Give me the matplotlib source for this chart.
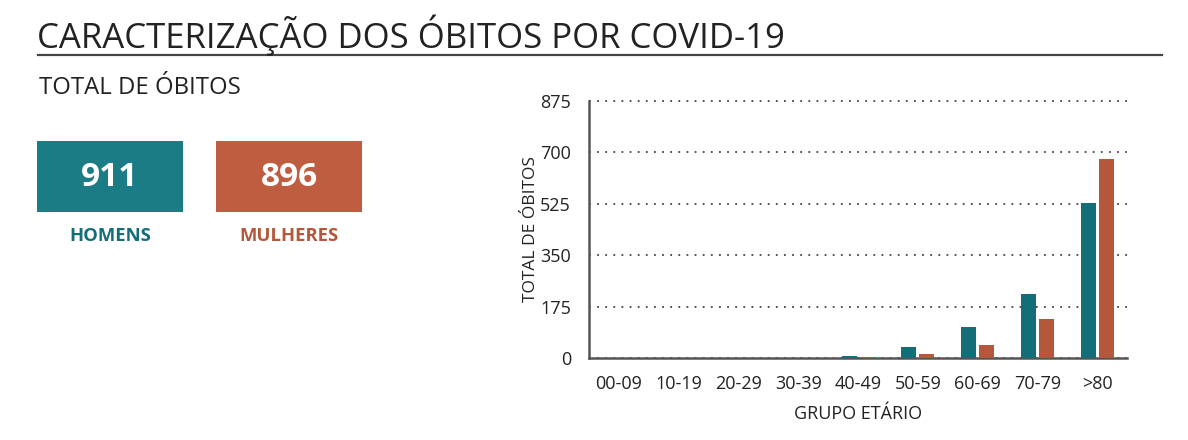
import matplotlib
matplotlib.use("Agg")
import matplotlib.pyplot as plt
from matplotlib.patches import Rectangle
import numpy as np

plt.rcParams['font.family'] = ['Open Sans', 'DejaVu Sans']

groups = ["00-09", "10-19", "20-29", "30-39", "40-49", "50-59", "60-69", "70-79", ">80"]
homens = [0, 0, 0, 0, 7, 37, 105, 217, 528]
mulheres = [0, 0, 0, 0, 5, 14, 45, 133, 678]
total_homens = 911
total_mulheres = 896
yticks = [0, 175, 350, 525, 700, 875]

TEAL = "#146e77"
ORANGE = "#b5573a"
BOX_TEAL = "#1b7c85"
BOX_ORANGE = "#be5d3f"
TXT = "#222222"

W, H = 1188, 440
fig = plt.figure(figsize=(W / 100, H / 100), dpi=100)

def fx(px):
    return px / W

def fy(py):
    return 1 - py / H

fig.text(fx(37), fy(35), "CARACTERIZAÇÃO DOS ÓBITOS POR COVID-19", fontsize=25,
         color=TXT, va="center", ha="left")
fig.add_artist(plt.Line2D([fx(38), fx(1162)], [fy(55), fy(55)], color="#444444", lw=1.6))
fig.text(fx(39), fy(88), "TOTAL DE ÓBITOS", fontsize=17.2, color=TXT, va="center", ha="left")

for x0, col, val, lab, lcol in [(37, BOX_TEAL, total_homens, "HOMENS", TEAL),
                                (216, BOX_ORANGE, total_mulheres, "MULHERES", ORANGE)]:
    fig.add_artist(Rectangle((fx(x0), fy(212)), fx(146), fy(141) - fy(212),
                             facecolor=col, edgecolor="none", transform=fig.transFigure))
    fig.text(fx(x0 + 73), fy(177), str(val), fontsize=24, fontweight="bold", color="white",
             ha="center", va="center")
    fig.text(fx(x0 + 73), fy(236), lab, fontsize=13.3, fontweight="bold", color=lcol,
             ha="center", va="center")

ax = fig.add_axes([fx(589), fy(358), fx(1127) - fx(589), fy(101) - fy(358)])
x = np.arange(len(groups))
bw = 0.25
ax.bar(x - 0.15, homens, width=bw, color=TEAL, zorder=3)
ax.bar(x + 0.15, mulheres, width=bw, color=ORANGE, zorder=3)
ax.set_xlim(-0.5, len(groups) - 0.5)
ax.set_ylim(0, 875)
ax.set_yticks(yticks)
ax.set_yticklabels([str(v) for v in yticks])
ax.set_xticks(x)
ax.set_xticklabels(groups)
for s in ["top", "right"]:
    ax.spines[s].set_visible(False)
for s in ["left", "bottom"]:
    ax.spines[s].set_color("#555555")
    ax.spines[s].set_linewidth(1.8)
ax.tick_params(length=0, labelsize=13, colors=TXT)
ax.tick_params(axis="y", pad=13)
ax.tick_params(axis="x", pad=12)
ax.yaxis.grid(True, linestyle=(0, (1, 3.5)), color="#444444", lw=1.3)
ax.set_axisbelow(True)
for gl in ax.get_ygridlines():
    gl.set_clip_on(False)
ax.set_xlabel("GRUPO ETÁRIO", fontsize=13, color=TXT, labelpad=9)
ax.set_ylabel("TOTAL DE ÓBITOS", fontsize=12.5, color=TXT, labelpad=1)

fig.savefig("out.png", dpi=100)
